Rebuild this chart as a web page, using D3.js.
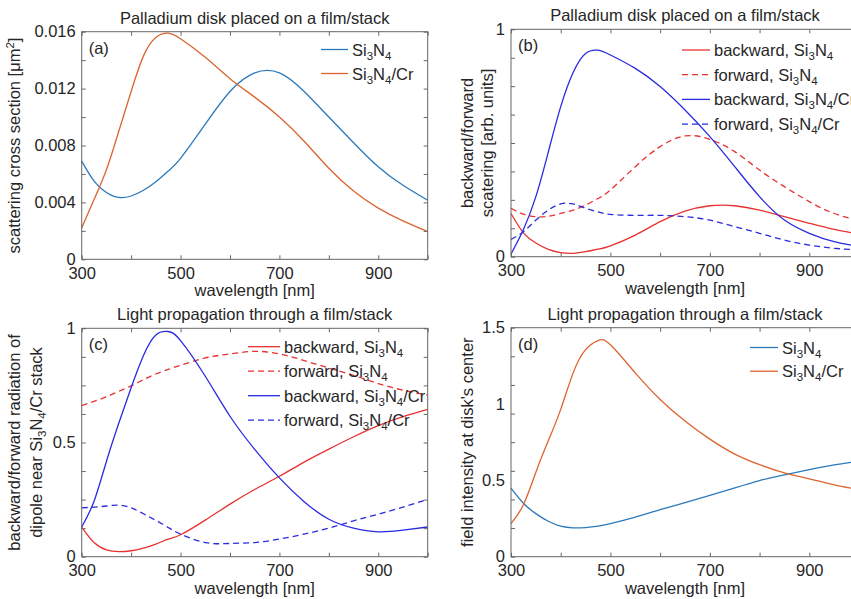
<!DOCTYPE html>
<html>
<head>
<meta charset="utf-8">
<script src="https://cdn.jsdelivr.net/npm/d3@7/dist/d3.min.js"></script>
<style>
  body { margin: 0; background: #fff; }
  svg { display: block; font-family: "Liberation Sans", Arial, sans-serif; }
  .box { fill: none; stroke: #666; stroke-width: 1; }
  .tick line { stroke: #666; }
  .tick text { fill: #262626; font-size: 16.5px; }
  .curve { fill: none; stroke-width: 1.3; }
  .txt { fill: #262626; font-size: 16.5px; }
</style>
</head>
<body>
<svg id="chart" width="851" height="599"></svg>
<script>
// wavelength grid [nm], shared by every curve
var wavelength = [300, 325, 350, 375, 400, 425, 450, 475, 500, 550, 600, 650, 700, 750, 800, 850, 900, 950, 1000];

// (a) scattering cross section [um^2]
var scatSi3N4 = [0.0069, 0.0055, 0.0047, 0.00435, 0.00445, 0.00485, 0.00545, 0.0062, 0.0071, 0.0095, 0.0118, 0.0131, 0.0131, 0.0118, 0.0100, 0.0082, 0.0065, 0.0052, 0.00415];
var scatSi3N4Cr = [0.0022, 0.0042, 0.0063, 0.0090, 0.0118, 0.0143, 0.0156, 0.0159, 0.0155, 0.0142, 0.0127, 0.0114, 0.0100, 0.0083, 0.0064, 0.0048, 0.0036, 0.0027, 0.00195];

// (b) backward/forward scattering
var bScatBackSi3N4 = [0.19, 0.105, 0.06, 0.032, 0.018, 0.015, 0.022, 0.033, 0.048, 0.095, 0.154, 0.20, 0.224, 0.224, 0.205, 0.176, 0.147, 0.12, 0.10];
var bScatFwdSi3N4 = [0.213, 0.187, 0.176, 0.178, 0.19, 0.205, 0.227, 0.256, 0.293, 0.396, 0.484, 0.531, 0.516, 0.462, 0.381, 0.308, 0.242, 0.19, 0.16];
var bScatBackSi3N4Cr = [0.012, 0.12, 0.264, 0.46, 0.66, 0.81, 0.894, 0.908, 0.887, 0.828, 0.748, 0.645, 0.528, 0.396, 0.264, 0.161, 0.103, 0.066, 0.045];
var bScatFwdSi3N4Cr = [0.076, 0.11, 0.161, 0.205, 0.232, 0.232, 0.213, 0.197, 0.186, 0.182, 0.182, 0.176, 0.161, 0.132, 0.103, 0.073, 0.051, 0.037, 0.03];

// (c) backward/forward radiation of dipole
var cRadBackSi3N4 = [0.13, 0.062, 0.03, 0.022, 0.026, 0.038, 0.055, 0.077, 0.096, 0.16, 0.23, 0.294, 0.352, 0.414, 0.471, 0.525, 0.574, 0.613, 0.645];
var cRadFwdSi3N4 = [0.661, 0.68, 0.70, 0.724, 0.748, 0.775, 0.80, 0.82, 0.838, 0.87, 0.888, 0.899, 0.888, 0.859, 0.826, 0.794, 0.758, 0.729, 0.707];
var cRadBackSi3N4Cr = [0.13, 0.243, 0.417, 0.584, 0.74, 0.881, 0.971, 0.986, 0.946, 0.79, 0.615, 0.47, 0.345, 0.241, 0.164, 0.125, 0.109, 0.116, 0.13];
var cRadFwdSi3N4Cr = [0.214, 0.217, 0.222, 0.226, 0.214, 0.188, 0.159, 0.128, 0.099, 0.062, 0.058, 0.062, 0.077, 0.099, 0.125, 0.157, 0.186, 0.217, 0.251];

// (d) field intensity at disk's center
var fieldSi3N4 = [0.449, 0.35, 0.282, 0.232, 0.20, 0.189, 0.191, 0.20, 0.217, 0.26, 0.308, 0.354, 0.401, 0.451, 0.499, 0.536, 0.57, 0.601, 0.625];
var fieldSi3N4Cr = [0.217, 0.34, 0.553, 0.759, 0.965, 1.204, 1.356, 1.416, 1.388, 1.204, 1.03, 0.889, 0.77, 0.672, 0.603, 0.549, 0.51, 0.471, 0.44];

// tick values and labels
var xTickLabels = [300, 500, 700, 900];
var xMinorTicks = [300, 400, 500, 600, 700, 800, 900, 1000];
var aYLabels = [0, 0.004, 0.008, 0.012, 0.016];
var bYLabels = [0, 1];
var cYLabels = [0, 0.5, 1];
var dYLabels = [0, 0.5, 1, 1.5];

var blue = '#2b79bb';
var orange = '#dc6430';
var red = '#e8312f';
var violet = '#2a2ae2';

var svg = d3.select('#chart');

// writes a label where _3 is a subscript and ^2 a superscript
function richText(sel, str, small) {
  var parts = str.split(/([_^]\d)/);
  var shift = 0;
  parts.forEach(function (p) {
    if (p === '') return;
    if (p[0] === '_' || p[0] === '^') {
      var d = p[0] === '_' ? 4 : -6;
      sel.append('tspan').attr('dy', d - shift).style('font-size', small + 'px').text(p.slice(1));
      shift = d;
    } else {
      sel.append('tspan').attr('dy', -shift).text(p);
      shift = 0;
    }
  });
}

function drawPanel(p) {
  var g = svg.append('g');
  var x = d3.scaleLinear().domain([300, 1000]).range([p.left, p.right]);
  var y = d3.scaleLinear().domain([0, p.yMax]).range([p.bottom, p.top]);
  var yMinor = d3.range(0, 9).map(function (i) { return i * p.yMax / 8; });

  // title
  g.append('text').attr('class', 'txt')
    .attr('x', (p.left + p.right) / 2).attr('y', p.top - 8)
    .attr('text-anchor', 'middle').text(p.title);

  // curves
  var line = d3.line()
    .x(function (d) { return x(d[0]); })
    .y(function (d) { return y(d[1]); })
    .curve(d3.curveNatural);
  p.series.forEach(function (s) {
    g.append('path').attr('class', 'curve')
      .datum(wavelength.map(function (w, i) { return [w, s.values[i]]; }))
      .attr('d', line)
      .attr('stroke', s.color)
      .attr('stroke-dasharray', s.dash ? '6,4' : null);
  });

  // inward ticks on all four sides
  var tl = 4;
  g.append('g').attr('transform', 'translate(0,' + p.bottom + ')')
    .call(d3.axisBottom(x).tickValues(xMinorTicks).tickSize(-tl).tickFormat(''));
  g.append('g').attr('transform', 'translate(0,' + p.top + ')')
    .call(d3.axisTop(x).tickValues(xMinorTicks).tickSize(-tl).tickFormat(''));
  g.append('g').attr('transform', 'translate(' + p.left + ',0)')
    .call(d3.axisLeft(y).tickValues(yMinor).tickSize(-tl).tickFormat(''));
  g.append('g').attr('transform', 'translate(' + p.right + ',0)')
    .call(d3.axisRight(y).tickValues(yMinor).tickSize(-tl).tickFormat(''));

  // tick labels
  g.append('g').attr('transform', 'translate(0,' + p.bottom + ')')
    .call(d3.axisBottom(x).tickValues(xTickLabels).tickSize(0).tickPadding(8).tickFormat(d3.format('d')));
  g.append('g').attr('transform', 'translate(' + p.left + ',0)')
    .call(d3.axisLeft(y).tickValues(p.yLabels).tickSize(0).tickPadding(6).tickFormat(p.yFormat));
  g.selectAll('.domain').remove();

  g.append('rect').attr('class', 'box')
    .attr('x', p.left).attr('y', p.top)
    .attr('width', p.right - p.left).attr('height', p.bottom - p.top);

  // axis titles
  g.append('text').attr('class', 'txt')
    .attr('x', (p.left + p.right) / 2).attr('y', p.bottom + 37)
    .attr('text-anchor', 'middle').text('wavelength [nm]');
  p.yTitle.forEach(function (t, i) {
    var tx = g.append('text').attr('class', 'txt')
      .attr('transform', 'translate(' + (p.left + p.yTitleX[i]) + ',' + ((p.top + p.bottom) / 2) + ') rotate(-90)')
      .attr('text-anchor', 'middle').attr('dy', '0.35em');
    richText(tx, t, 11.5);
  });

  // panel letter
  g.append('text').attr('class', 'txt')
    .attr('x', p.left + 7).attr('y', p.top + 22).text(p.letter);

  // legend
  p.series.forEach(function (s, i) {
    var ly = p.legend.y + i * p.legend.dy;
    g.append('line')
      .attr('x1', p.legend.x).attr('x2', p.legend.x + p.legend.len)
      .attr('y1', ly).attr('y2', ly)
      .attr('stroke', s.color).attr('stroke-width', 1.3)
      .attr('stroke-dasharray', s.dash ? '6,4' : null);
    var tx = g.append('text').attr('class', 'txt')
      .attr('x', p.legend.x + p.legend.len + 4).attr('y', ly + 6);
    richText(tx, s.name, 11.5);
  });
}

var fmt3 = function (d) { return d === 0 ? '0' : d3.format('.3f')(d); };
var fmtG = function (d) { return String(d); };

drawPanel({
  left: 81.7, right: 427.7, top: 31.7, bottom: 259.3, yMax: 0.016,
  title: 'Palladium disk placed on a film/stack', letter: '(a)',
  yLabels: aYLabels, yFormat: fmt3,
  yTitle: ['scattering cross section [\u03bcm^2]'], yTitleX: [-62],
  legend: { x: 321, y: 49.5, dy: 24, len: 27 },
  series: [
    { name: 'Si_3N_4', values: scatSi3N4, color: blue },
    { name: 'Si_3N_4/Cr', values: scatSi3N4Cr, color: orange }
  ]
});

drawPanel({
  left: 511, right: 859, top: 29.3, bottom: 256.7, yMax: 1,
  title: 'Palladium disk placed on a film/stack', letter: '(b)',
  yLabels: bYLabels, yFormat: fmtG,
  yTitle: ['backward/forward', 'scatering [arb. units]'], yTitleX: [-38, -18],
  legend: { x: 682, y: 50, dy: 24.7, len: 28 },
  series: [
    { name: 'backward, Si_3N_4', values: bScatBackSi3N4, color: red },
    { name: 'forward, Si_3N_4', values: bScatFwdSi3N4, color: red, dash: true },
    { name: 'backward, Si_3N_4/Cr', values: bScatBackSi3N4Cr, color: violet },
    { name: 'forward, Si_3N_4/Cr', values: bScatFwdSi3N4Cr, color: violet, dash: true }
  ]
});

drawPanel({
  left: 81.7, right: 427.7, top: 328.3, bottom: 556.7, yMax: 1,
  title: 'Light propagation through a film/stack', letter: '(c)',
  yLabels: cYLabels, yFormat: fmtG,
  yTitle: ['backward/forward radiation of', 'dipole near Si_3N_4/Cr stack'], yTitleX: [-62, -40],
  legend: { x: 248, y: 346.7, dy: 24.5, len: 32 },
  series: [
    { name: 'backward, Si_3N_4', values: cRadBackSi3N4, color: red },
    { name: 'forward, Si_3N_4', values: cRadFwdSi3N4, color: red, dash: true },
    { name: 'backward, Si_3N_4/Cr', values: cRadBackSi3N4Cr, color: violet },
    { name: 'forward, Si_3N_4/Cr', values: cRadFwdSi3N4Cr, color: violet, dash: true }
  ]
});

drawPanel({
  left: 511, right: 859, top: 327.7, bottom: 556.7, yMax: 1.5,
  title: 'Light propagation through a film/stack', letter: '(d)',
  yLabels: dYLabels, yFormat: fmtG,
  yTitle: ["field intensity at disk's center"], yTitleX: [-38],
  legend: { x: 750, y: 347.5, dy: 23.7, len: 28 },
  series: [
    { name: 'Si_3N_4', values: fieldSi3N4, color: blue },
    { name: 'Si_3N_4/Cr', values: fieldSi3N4Cr, color: orange }
  ]
});
</script>
</body>
</html>
